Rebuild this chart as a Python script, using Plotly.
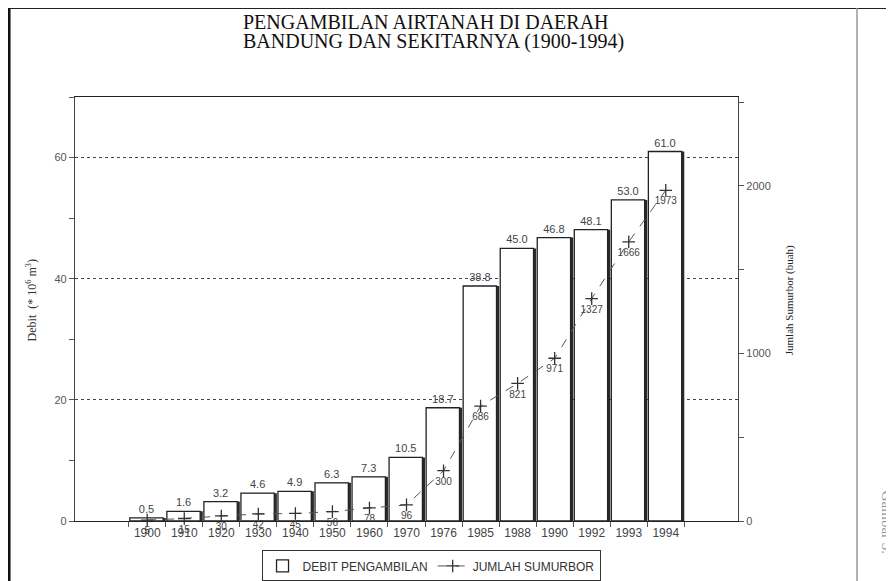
import plotly.graph_objects as go

years = ["1900", "1910", "1920", "1930", "1940", "1950", "1960", "1970",
         "1976", "1985", "1988", "1990", "1992", "1993", "1994"]
debit = [0.5, 1.6, 3.2, 4.6, 4.9, 6.3, 7.3, 10.5, 18.7, 38.8, 45.0, 46.8, 48.1, 53.0, 61.0]
sumurbor = [5, 15, 30, 42, 45, 56, 78, 96, 300, 686, 821, 971, 1327, 1666, 1973]

title_line1 = "PENGAMBILAN AIRTANAH DI DAERAH"
title_line2 = "BANDUNG DAN SEKITARNYA (1900-1994)"
left_title = "Debit  (* 10<sup>6</sup> m<sup>3</sup>)"
right_title = "Jumlah Sumurbor (buah)"
left_ticks = [0, 20, 40, 60]
right_ticks = [0, 1000, 2000]

SANS = "Liberation Sans, Arial, sans-serif"
SERIF = "Liberation Serif, Times New Roman, serif"

fig = go.Figure()

# shadow behind bars (thick dark right edge)
fig.add_trace(go.Bar(
    x=years, y=debit, width=0.9, offset=-0.40,
    marker=dict(color="#2a2a2a", line=dict(width=0)),
    showlegend=False, hoverinfo="skip"))

fig.add_trace(go.Bar(
    x=years, y=debit, width=0.9, offset=-0.47,
    name="DEBIT PENGAMBILAN",
    marker=dict(color="white", line=dict(color="#222", width=1.3)),
    text=[f"{v:.1f}" for v in debit], textposition="outside",
    textfont=dict(family=SANS, size=11, color="#444"),
    cliponaxis=False))

fig.add_trace(go.Scatter(
    x=years, y=sumurbor, yaxis="y2", name="JUMLAH SUMURBOR",
    mode="lines+markers+text",
    line=dict(color="#555", width=1, dash="dash"),
    marker=dict(symbol="cross-thin", size=9, line=dict(color="#333", width=1.3)),
    text=[str(v) for v in sumurbor], textposition="bottom center",
    textfont=dict(family=SANS, size=10, color="#444"),
    cliponaxis=False))

fig.update_layout(
    width=886, height=573,
    margin=dict(l=67, r=156, t=89, b=60, autoexpand=False),
    paper_bgcolor="white", plot_bgcolor="white",
    barmode="overlay",
    xaxis=dict(type="category", range=[-1.95, 15.95],
               showline=True, linecolor="#222", linewidth=1.2, mirror=True,
               ticks="outside", tickson="boundaries", ticklen=5, tickcolor="#555",
               tickfont=dict(family=SANS, size=12, color="#444"),
               showgrid=False),
    yaxis=dict(range=[0, 70], tickvals=left_ticks,
               showline=True, linecolor="#444", linewidth=1.2,
               ticks="outside", ticklen=5, tickcolor="#555",
               minor=dict(dtick=10, ticks="outside", ticklen=5, tickcolor="#555"),
               tickfont=dict(family=SANS, size=11, color="#555"),
               showgrid=True, gridcolor="#444", griddash="dot", gridwidth=1,
               zeroline=False),
    yaxis2=dict(range=[0, 2530], tickvals=right_ticks, overlaying="y", side="right",
                showline=True, linecolor="#444", linewidth=1.2,
                ticks="outside", ticklen=5, tickcolor="#555",
                minor=dict(dtick=500, ticks="outside", ticklen=5, tickcolor="#555"),
                tickfont=dict(family=SANS, size=11, color="#555"),
                showgrid=False, zeroline=False),
    legend=dict(orientation="h", x=0.537, y=-0.106, xanchor="center", yanchor="middle",
                bordercolor="#333", borderwidth=1, bgcolor="white",
                font=dict(family=SANS, size=12, color="#333"),
                traceorder="normal"),
    showlegend=True,
    annotations=[
        dict(text=title_line1, xref="paper", yref="paper", x=0.529, y=1.177,
             showarrow=False, xanchor="center", yanchor="middle",
             font=dict(family=SERIF, size=20, color="#111")),
        dict(text=title_line2, xref="paper", yref="paper", x=0.540, y=1.130,
             showarrow=False, xanchor="center", yanchor="middle",
             font=dict(family=SERIF, size=20, color="#111")),
        dict(text=left_title, xref="paper", yref="paper", x=-0.065, y=0.52,
             textangle=-90, showarrow=False, xanchor="center", yanchor="middle",
             font=dict(family=SERIF, size=12, color="#333")),
        dict(text=right_title, xref="paper", yref="paper", x=1.078, y=0.52,
             textangle=-90, showarrow=False, xanchor="center", yanchor="middle",
             font=dict(family=SERIF, size=11, color="#222")),
        dict(text="Gambar 3.", xref="paper", yref="paper", x=1.2247, y=0.075,
             textangle=90, showarrow=False, xanchor="center", yanchor="top",
             font=dict(family=SERIF, size=15, color="#999")),
    ],
    shapes=[
        dict(type="line", xref="paper", yref="paper", x0=-0.0995, x1=-0.0995,
             y0=1.21, y1=-0.15, line=dict(color="#111", width=3)),
        dict(type="line", xref="paper", yref="paper", x0=-0.0995, x1=1.24,
             y0=1.21, y1=1.21, line=dict(color="#222", width=2)),
        dict(type="line", xref="paper", yref="paper", x0=1.1795, x1=1.1795,
             y0=1.21, y1=-0.15, line=dict(color="#999", width=1.5)),
    ],
)

fig.write_html("out.html")
